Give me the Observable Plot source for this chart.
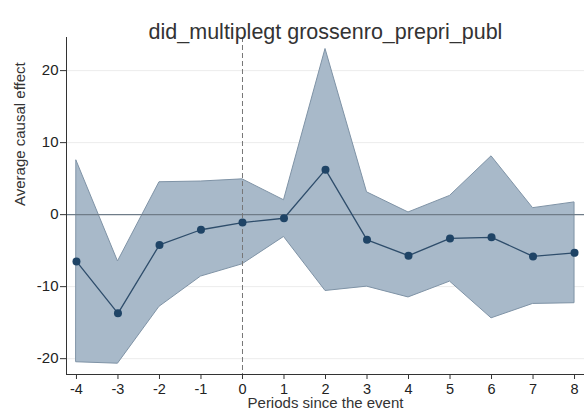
<!DOCTYPE html>
<html><head><meta charset="utf-8">
<script src="https://cdn.jsdelivr.net/npm/d3@7"></script>
<script src="https://cdn.jsdelivr.net/npm/@observablehq/plot@0.6"></script>
<style>
body{margin:0;background:#fff;} svg{display:block;}
</style>
</head><body><div id="chart"></div>
<script>
const periods = [-4,-3,-2,-1,0,1,2,3,4,5,6,7,8];
const effect  = [-6.5,-13.7,-4.2,-2.1,-1.1,-0.5,6.25,-3.5,-5.7,-3.3,-3.15,-5.8,-5.3];
const upper   = [7.5,-6.5,4.5,4.6,4.9,2.0,23.0,3.1,0.3,2.6,8.1,0.9,1.7];
const lower   = [-20.5,-20.7,-12.8,-8.6,-6.9,-3.1,-10.6,-10.0,-11.5,-9.3,-14.4,-12.4,-12.3];
const yTicks  = [-20,-10,0,10,20];
const gridTicks = [-20,-10,10,20];
const title = "did_multiplegt grossenro_prepri_publ";
const xLabel = "Periods since the event";
const yLabel = "Average causal effect";

const data = periods.map((p,i)=>({p, e:effect[i], lo:lower[i], hi:upper[i]}));
const xDom = [-4.24, 8.24];
const yDom = [-22.2, 24.6];

const chart = Plot.plot({
  width:584, height:416,
  marginLeft:66, marginRight:0, marginTop:37, marginBottom:42,
  style:{fontFamily:"'Liberation Sans', Arial, sans-serif", fontSize:"15px", color:"#222", background:"#fff"},
  x:{domain:xDom},
  y:{domain:yDom},
  marks:[
    Plot.ruleY(gridTicks, {stroke:"#ececec", strokeWidth:1}),
    Plot.areaY(data, {x:"p", y1:"lo", y2:"hi", fill:"#a8b9c9", stroke:"#7f93a6", strokeWidth:1}),
    Plot.ruleY([0], {stroke:"#6f7c88", strokeWidth:1.3}),
    Plot.ruleX([0], {stroke:"#777", strokeDasharray:"5,3", strokeWidth:1}),
    Plot.lineY(data, {x:"p", y:"e", stroke:"#2e4d6b", strokeWidth:1.3}),
    Plot.dot(data, {x:"p", y:"e", r:4, fill:"#1f4466", stroke:"none"}),
    Plot.axisX({ticks:periods, tickSize:5, tickPadding:4, tickFormat:d=>`${d}`, label:null, fontSize:14.5, fill:"#222", stroke:"#333"}),
    Plot.axisY({ticks:yTicks, tickSize:6, tickPadding:2, tickFormat:d=>`${d}`, label:null, fontSize:15, fill:"#222", stroke:"#333"}),
    Plot.ruleX([xDom[0]], {stroke:"#333", strokeWidth:1}),
    Plot.ruleY([yDom[0]], {stroke:"#333", strokeWidth:1}),
    Plot.text([title], {frameAnchor:"top", dy:-14, fontSize:21.5, fill:"#333"}),
    Plot.text([xLabel], {frameAnchor:"bottom", dy:33, fontSize:15, fill:"#333"}),
    Plot.text([yLabel], {frameAnchor:"left", rotate:-90, dx:-46, fontSize:15, fill:"#333"})
  ]
});
document.getElementById("chart").append(chart);
</script></body></html>
